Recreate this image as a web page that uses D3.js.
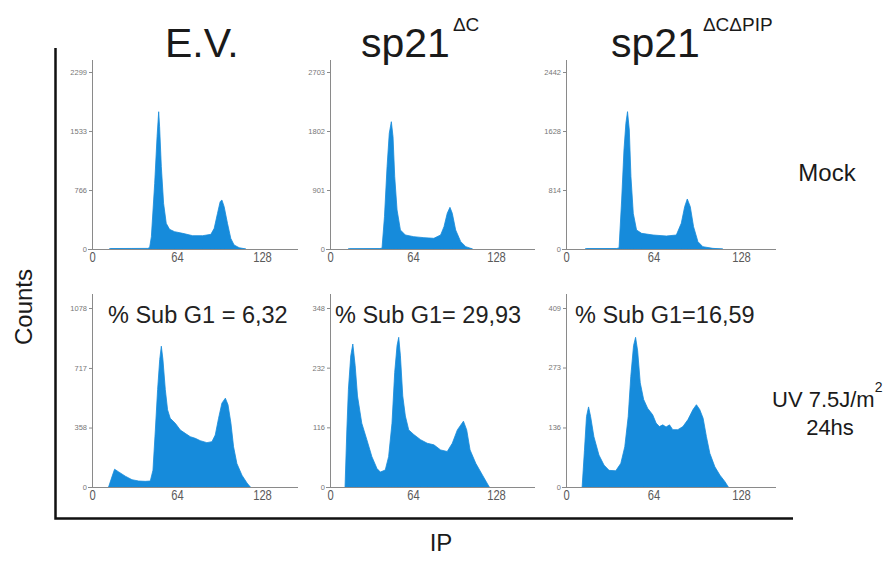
<!DOCTYPE html>
<html><head><meta charset="utf-8">
<script src="https://cdn.jsdelivr.net/npm/d3@7"></script>
<style>
body{margin:0;background:#fff}
svg{display:block}
text{font-family:"Liberation Sans",Arial,Helvetica,sans-serif}
</style>
</head><body>
<svg id="chart" width="889" height="563"></svg>
<script>
// ---------- data ----------
const columnTitles = ["E.V.", "sp21", "sp21"];
const columnSuperscripts = ["", "\u0394C", "\u0394C\u0394PIP"];
const rowLabels = ["Mock", "UV 7.5J/m", "24hs"];
const xTickValues = [0, 64, 128];
const yTicksMock = [[0, 766, 1533, 2299], [0, 901, 1802, 2703], [0, 814, 1628, 2442]];
const yTicksUV = [[0, 358, 717, 1078], [0, 116, 232, 348], [0, 136, 273, 409]];
const subG1Labels = ["% Sub G1 = 6,32", "% Sub G1= 29,93", "% Sub G1=16,59"];

// [IP channel, counts]
const evMock = [[13,0],[14,6],[30,7],[42,8],[43.4,20],[44.7,160],[47.2,853],[49,1459],[50.2,1783],[50.9,1588],[52.2,1069],[53.9,593],[55.9,333],[58.4,255],[62.2,225],[68.3,203],[75.8,173],[83.3,173],[89.5,190],[92,268],[94.5,463],[96.5,615],[97.8,636],[99.5,550],[102,333],[104.5,138],[107,52],[110.8,17],[115.8,0]];
const dcMock = [[14,0],[15,5],[38,6],[40.1,12],[42,494],[44,1257],[45.7,1766],[47.3,1944],[48.6,1715],[49.9,1105],[51.7,596],[54.3,290],[58.1,214],[64.6,188],[72.4,173],[80.1,163],[85.3,214],[87.9,341],[90.4,545],[92.5,636],[94.3,545],[96.9,290],[100.8,112],[104.7,36],[109.9,0]];
const dcpMock = [[14,0],[15,6],[37,7],[38.8,15],[40.7,676],[42.4,1366],[43.8,1734],[45,1895],[46.3,1642],[47.5,998],[49.2,492],[51.6,262],[55.3,216],[63.7,193],[73.4,179],[80.7,193],[84.3,354],[86.8,584],[88.7,690],[90.9,584],[93.3,308],[96.5,101],[100.1,32],[107.4,9],[114.7,0]];
const evUV = [[12.5,0],[15,61],[17,107],[20.1,91],[25.1,65],[30.1,44],[35.1,36],[40.1,34],[43.9,36],[45.9,101],[47.7,343],[49.4,586],[51,768],[52.2,848],[53.4,768],[55.2,586],[56.9,465],[58.9,414],[62.7,384],[66.5,343],[70.2,323],[74,303],[77.8,293],[81.5,279],[86.5,267],[90.3,273],[92.8,313],[95.3,414],[97.8,505],[100.4,535],[102.4,495],[104.6,384],[106.6,242],[109.1,141],[112.9,71],[116.7,24],[119.2,0]];
const dcUV = [[11.6,0],[13,111],[14.2,190],[16,255],[17.6,278],[19.4,236],[21.2,177],[24.5,124],[28.4,92],[32.3,59],[36.2,36],[38.8,29],[42.6,33],[45.2,59],[47.8,124],[49.9,223],[51.7,275],[53,291],[54.3,255],[56.1,177],[58.1,138],[60.7,111],[64.6,102],[69.8,92],[75,85],[80.1,82],[85.3,72],[90.4,69],[94.3,85],[98.2,111],[102.9,128],[105.4,111],[108,72],[112.4,46],[117.6,23],[122.8,0]];
const dcpUV = [[11.8,0],[13.5,84],[15,161],[16.5,183],[18,161],[20.4,115],[24.1,73],[27.8,50],[31.5,38],[36.4,37],[40.1,54],[43,92],[45.5,161],[47.4,253],[49.4,323],[50.9,342],[52.4,311],[54.3,238],[56.8,200],[59.7,180],[63.4,165],[65.9,146],[68.3,138],[70.8,142],[73.2,137],[75.7,142],[78.1,131],[81.8,131],[85.5,138],[89.2,154],[92.9,177],[95.4,188],[97.8,177],[100.3,157],[102.7,115],[105.2,77],[108.9,46],[112.6,27],[116.3,12],[118.7,0]];

const histograms = [[evMock, dcMock, dcpMock], [evUV, dcUV, dcpUV]];
const yTicks = [yTicksMock, yTicksUV];

// ---------- layout ----------
const svg = d3.select("#chart");
const blue = "#168bdb";
const axisGray = "#8a8a8a";
const colLayout = [{x0:92, x128:262, xEnd:298}, {x0:330, x128:496, xEnd:535}, {x0:566, x128:741, xEnd:776}];
const rowLayout = [{y0:249, yTop:72, axisTop:60}, {y0:487, yTop:308, axisTop:294}];

histograms.forEach((row, r) => {
  row.forEach((data, c) => {
    const L = colLayout[c], R = rowLayout[r];
    const ticks = yTicks[r][c];
    const x = d3.scaleLinear().domain([0, 128]).range([L.x0, L.x128]);
    const y = d3.scaleLinear().domain([0, ticks[ticks.length - 1]]).range([R.y0, R.yTop]);
    const g = svg.append("g");

    const area = d3.area().x(d => x(d[0])).y0(R.y0).y1(d => y(d[1]));
    g.append("path").datum(data).attr("d", area)
      .attr("fill", blue).attr("stroke", blue).attr("stroke-width", 0.8);

    // x axis
    const xa = g.append("g").attr("transform", `translate(0,${R.y0})`)
      .call(d3.axisBottom(x).tickValues(xTickValues).tickSize(0).tickPadding(3));
    xa.select(".domain").remove();
    xa.selectAll("text").attr("font-size", 14).attr("fill", "#5a5a5a")
      .attr("font-family", "Liberation Sans, Arial, sans-serif")
      .attr("transform", "scale(0.8,1)");
    g.append("line").attr("x1", L.x0 - 4).attr("x2", L.xEnd)
      .attr("y1", R.y0 + 0.5).attr("y2", R.y0 + 0.5)
      .attr("stroke", axisGray).attr("stroke-width", 1);

    // y axis
    const ya = g.append("g").attr("transform", `translate(${L.x0},0)`)
      .call(d3.axisLeft(y).tickValues(ticks).tickSize(3).tickPadding(2).tickFormat(d3.format("d")));
    ya.select(".domain").remove();
    ya.selectAll("line").attr("stroke", axisGray);
    ya.selectAll("text").attr("font-size", 7.5).attr("fill", "#777")
      .attr("font-family", "Liberation Sans, Arial, sans-serif");
    g.append("line").attr("x1", L.x0 + 0.5).attr("x2", L.x0 + 0.5)
      .attr("y1", R.axisTop).attr("y2", R.y0)
      .attr("stroke", axisGray).attr("stroke-width", 1);
  });
});

// Sub G1 labels
const subG1X = [108, 335, 575];
subG1Labels.forEach((t, i) => {
  svg.append("text").attr("x", subG1X[i]).attr("y", 323)
    .attr("font-size", 23.5).attr("fill", "#222").text(t);
});

// column titles
const titleX = [165, 361, 611];
columnTitles.forEach((t, i) => {
  const tx = svg.append("text").attr("x", titleX[i]).attr("y", 57)
    .attr("font-size", 41).attr("fill", "#1a1a1a");
  tx.append("tspan").text(t);
  if (columnSuperscripts[i]) {
    tx.append("tspan").attr("dx", 3).attr("dy", -26).attr("font-size", 19).text(columnSuperscripts[i]);
  }
});

// row labels
svg.append("text").attr("x", 827).attr("y", 181).attr("text-anchor", "middle")
  .attr("font-size", 24).attr("fill", "#1a1a1a").text(rowLabels[0]);
const uv = svg.append("text").attr("x", 772).attr("y", 407).attr("font-size", 22).attr("fill", "#1a1a1a");
uv.append("tspan").text(rowLabels[1]);
uv.append("tspan").attr("dy", -15).attr("font-size", 14).text("2");
svg.append("text").attr("x", 830).attr("y", 435).attr("text-anchor", "middle")
  .attr("font-size", 22).attr("fill", "#1a1a1a").text(rowLabels[2]);

// outer frame
svg.append("path").attr("d", "M55.5,48 V518.5 H793")
  .attr("fill", "none").attr("stroke", "#111").attr("stroke-width", 2.5);

// axis titles
svg.append("text").attr("transform", "translate(32,307) rotate(-90)")
  .attr("text-anchor", "middle").attr("font-size", 24).attr("fill", "#1a1a1a").text("Counts");
svg.append("text").attr("x", 441).attr("y", 551).attr("text-anchor", "middle")
  .attr("font-size", 24).attr("fill", "#1a1a1a").text("IP");
</script>
</body></html>
